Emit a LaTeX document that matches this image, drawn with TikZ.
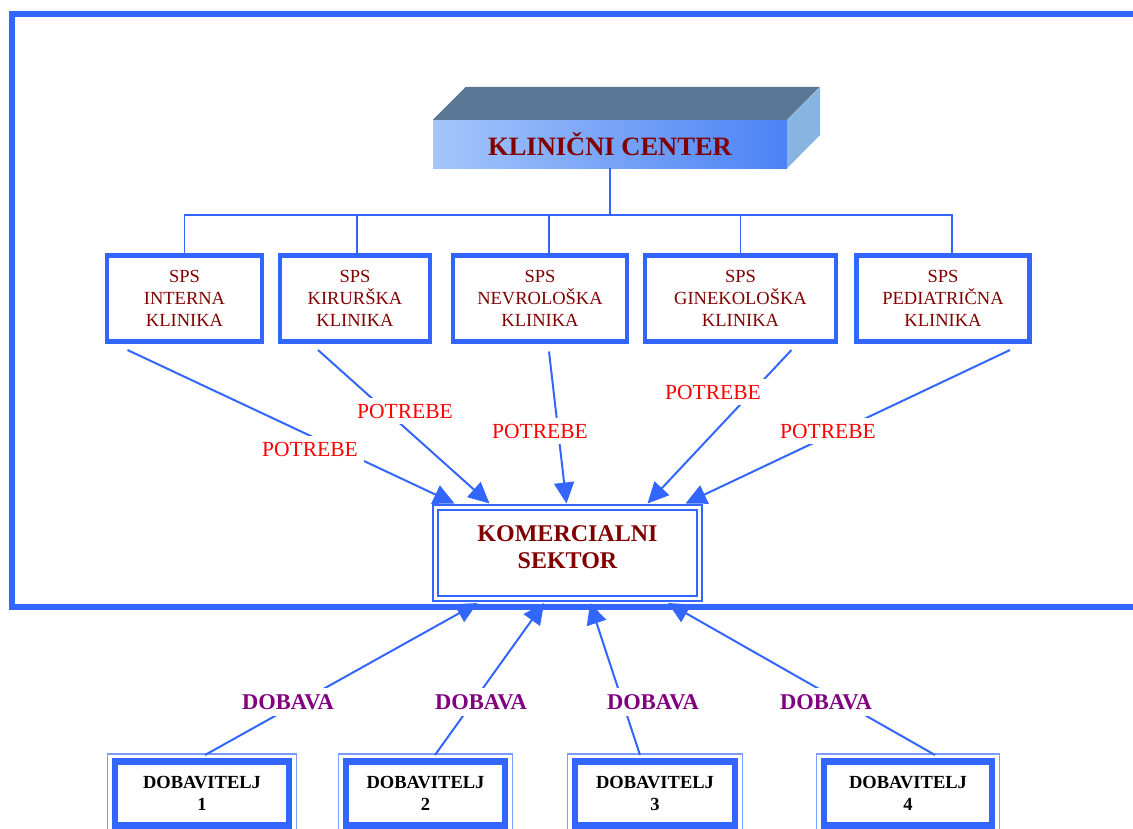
\documentclass[tikz,border=0pt]{standalone}
\usepackage{fontspec}
\setmainfont{Liberation Serif}
\usetikzlibrary{positioning,arrows.meta,calc}
\definecolor{linija}{HTML}{3366FF}
\definecolor{svetla}{HTML}{7A9CFF}
\definecolor{temnordeca}{HTML}{800000}
\definecolor{vijolicna}{HTML}{800080}
\definecolor{kcsvetla}{HTML}{A4C6FA}
\definecolor{kctemna}{HTML}{4C82F5}
\definecolor{kczgoraj}{HTML}{5A7896}
\definecolor{kcdesno}{HTML}{88B4E1}
\tikzset{
>={Triangle[length=21pt,width=20pt]},
  center3d/.style={
    rectangle,
    left color=kcsvetla,
    right color=kctemna,
    minimum width=354pt,
    minimum height=48pt,
    text=temnordeca,
    font=\bfseries\fontsize{26.5pt}{26.5pt}\selectfont},
  klinika/.style={
    rectangle,
    draw=linija, line width=4.5pt,
    outer sep=0pt,
    minimum height=86pt,
    text=temnordeca,
    align=center,
    font=\fontsize{18.5pt}{22pt}\selectfont},
  sektor/.style={
    rectangle,
    draw=linija, line width=1.7pt,
    double=white, double distance=3.5pt,
    outer sep=0pt,
    minimum width=264pt,
    minimum height=91pt,
    text depth=12pt,
    text=temnordeca,
    align=center,
    font=\bfseries\fontsize{24pt}{27pt}\selectfont},
  dobavitelj/.style={
    rectangle,
    draw=linija, line width=6.5pt,
    outer sep=0pt,
    minimum height=64pt,
    align=center,
    font=\bfseries\fontsize{18.5pt}{22pt}\selectfont},
  okvir/.style={draw=linija, line width=6pt},
  tree/.style={draw=linija, line width=1.2pt},
  line/.style={draw=linija, line width=2pt, ->},
  potrebe/.style={fill=white, text=red, inner sep=6pt,
    font=\fontsize{21.5pt}{21.5pt}\selectfont},
  dobava/.style={fill=white, text=vijolicna, inner sep=6pt,
    font=\bfseries\fontsize{22.5pt}{22.5pt}\selectfont},
}

\begin{document}
\begin{tikzpicture}[x=1pt,y=-1pt]
  \useasboundingbox (0,0) rectangle (1133,828);
  \clip (0,0) rectangle (1133,828);
  \draw[okvir] (11.5,14) rectangle (1200,607);

  \node[center3d] (kc) at (610,144) {KLINIČNI CENTER};
  \fill[kczgoraj] (kc.north west) -- ++(33pt,33pt) -- ++(354pt,0pt)
    -- (kc.north east) -- cycle;
  \fill[kcdesno] (kc.north east) -- ++(33pt,33pt) -- ++(0pt,-48pt)
    -- (kc.south east) -- cycle;

  \node[klinika, minimum width=155pt] (s1) at (184.5,298.5) {SPS\\INTERNA\\KLINIKA};
  \node[klinika, minimum width=150pt] (s2) at (355,298.5) {SPS\\KIRURŠKA\\KLINIKA};
  \node[klinika, minimum width=174pt] (s3) at (540,298.5) {SPS\\NEVROLOŠKA\\KLINIKA};
  \node[klinika, minimum width=191pt] (s4) at (740.5,298.5) {SPS\\GINEKOLOŠKA\\KLINIKA};
  \node[klinika, minimum width=173pt] (s5) at (943,298.5) {SPS\\PEDIATRIČNA\\KLINIKA};

  \coordinate (bus) at (610,215);
  \draw[tree] (kc.south) -- (bus);
  \draw[tree] (s1.north) |- (bus) -| ([xshift=9pt]s5.north);
  \draw[tree] ([xshift=2pt]s2.north) -- ++(0pt,40.5pt);
  \draw[tree] ([xshift=9pt]s3.north) -- ++(0pt,40.5pt);
  \draw[tree] (s4.north) -- (s4.north |- bus);

  \node[sektor] (kom) at (567.5,553) {KOMERCIALNI\\SEKTOR};

  \draw[line] ([xshift=-57pt,yshift=-8.5pt]s1.south) -- ([xshift=-113pt,yshift=4pt]kom.north);
  \draw[line] ([xshift=-37pt,yshift=-8.5pt]s2.south) -- ([xshift=-78pt,yshift=4pt]kom.north);
  \draw[line] ([xshift=9pt,yshift=-10pt]s3.south) -- ([xshift=-1pt,yshift=4pt]kom.north);
  \draw[line] ([xshift=51pt,yshift=-8.5pt]s4.south) -- ([xshift=80pt,yshift=4pt]kom.north);
  \draw[line] ([xshift=67pt,yshift=-8.5pt]s5.south) -- ([xshift=118pt,yshift=4pt]kom.north);

  \node[potrebe] (p1) at (310,449) {POTREBE};
  \node[potrebe] (p2) at (405,411) {POTREBE};
  \node[potrebe] (p3) at (540,431) {POTREBE};
  \node[potrebe] (p4) at (713,392) {POTREBE};
  \node[potrebe] (p5) at (828,431) {POTREBE};

  \node[dobavitelj, minimum width=174pt] (d1) at (202,793.5) {DOBAVITELJ\\1};
  \node[dobavitelj, minimum width=159pt] (d2) at (425.5,793.5) {DOBAVITELJ\\2};
  \node[dobavitelj, minimum width=160pt] (d3) at (655,793.5) {DOBAVITELJ\\3};
  \node[dobavitelj, minimum width=168pt] (d4) at (908,793.5) {DOBAVITELJ\\4};
  \foreach \d in {d1,d2,d3,d4}
    \draw[svetla, line width=1.3pt] ([shift={(-7.5pt,7.5pt)}]\d.north west)
      rectangle ([shift={(7.5pt,-7.5pt)}]\d.south east);

  \draw[line] ([xshift=3pt,yshift=6.5pt]d1.north) -- ([xshift=-90pt,yshift=-4.5pt]kom.south);
  \draw[line] ([xshift=9.5pt,yshift=6.5pt]d2.north) -- ([xshift=-23.5pt,yshift=-4.5pt]kom.south);
  \draw[line] ([xshift=-15pt,yshift=6.5pt]d3.north) -- ([xshift=22.5pt,yshift=-4.5pt]kom.south);
  \draw[line] ([xshift=27pt,yshift=6.5pt]d4.north) -- ([xshift=100.5pt,yshift=-4.5pt]kom.south);

  \node[dobava] (b1) at (288,702) {DOBAVA};
  \node[dobava] (b2) at (481,702) {DOBAVA};
  \node[dobava] (b3) at (653,702) {DOBAVA};
  \node[dobava] (b4) at (826,702) {DOBAVA};
\end{tikzpicture}
\end{document}
